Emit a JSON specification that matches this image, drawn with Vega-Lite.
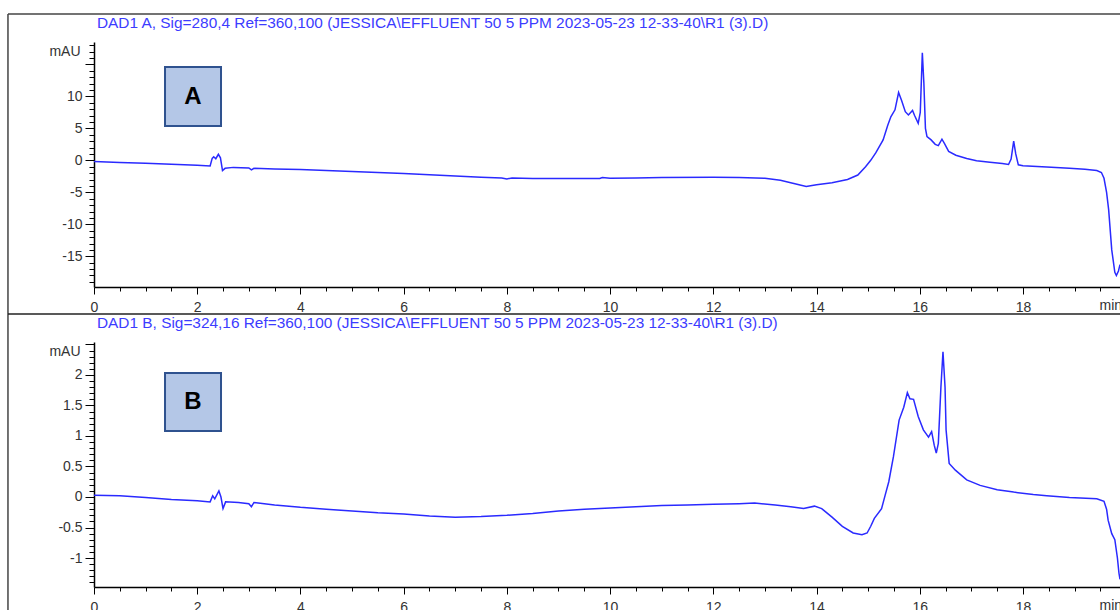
{
  "$schema": "https://vega.github.io/schema/vega-lite/v6.json",
  "autosize": {"type": "none"},
  "width": 1026,
  "height": 545,
  "padding": {"left": 94, "top": 42, "right": 0, "bottom": 23},
  "background": "white",
  "config": {
    "view": {"stroke": null},
    "axis": {
      "labelFont": "Liberation Sans",
      "labelFontSize": 14,
      "labelColor": "#333333",
      "titleFont": "Liberation Sans",
      "titleFontSize": 14,
      "titleFontWeight": "normal",
      "titleColor": "#333333",
      "domainColor": "#000000",
      "domainWidth": 1.5,
      "tickColor": "#000000",
      "tickWidth": 1,
      "grid": false,
      "labelOverlap": false
    }
  },
  "datasets": {
    "traceA": [
      {"t": 0, "v": -0.2}, {"t": 0.5, "v": -0.33}, {"t": 1.0, "v": -0.47}, {"t": 1.5, "v": -0.62},
      {"t": 2.0, "v": -0.76}, {"t": 2.25, "v": -0.88}, {"t": 2.29, "v": 0.3}, {"t": 2.32, "v": 0.55},
      {"t": 2.36, "v": 0.25}, {"t": 2.41, "v": 0.95}, {"t": 2.45, "v": 0.4}, {"t": 2.49, "v": -1.6},
      {"t": 2.54, "v": -1.25}, {"t": 2.7, "v": -1.1}, {"t": 3.0, "v": -1.2}, {"t": 3.05, "v": -1.5},
      {"t": 3.1, "v": -1.25}, {"t": 3.5, "v": -1.35}, {"t": 4.0, "v": -1.45}, {"t": 4.5, "v": -1.6},
      {"t": 5.0, "v": -1.75}, {"t": 5.5, "v": -1.9}, {"t": 6.0, "v": -2.05}, {"t": 6.5, "v": -2.25},
      {"t": 7.0, "v": -2.45}, {"t": 7.5, "v": -2.65}, {"t": 7.9, "v": -2.75}, {"t": 8.0, "v": -2.9},
      {"t": 8.1, "v": -2.75}, {"t": 8.5, "v": -2.85}, {"t": 9.0, "v": -2.85}, {"t": 9.5, "v": -2.85},
      {"t": 9.8, "v": -2.85}, {"t": 9.85, "v": -2.7}, {"t": 10.0, "v": -2.8}, {"t": 10.5, "v": -2.75},
      {"t": 11.0, "v": -2.7}, {"t": 12.0, "v": -2.65}, {"t": 12.5, "v": -2.7}, {"t": 13.0, "v": -2.8},
      {"t": 13.3, "v": -3.1}, {"t": 13.5, "v": -3.5}, {"t": 13.8, "v": -4.1}, {"t": 14.0, "v": -3.8},
      {"t": 14.3, "v": -3.5}, {"t": 14.6, "v": -3.0}, {"t": 14.8, "v": -2.3}, {"t": 14.95, "v": -1.0},
      {"t": 15.05, "v": 0.0}, {"t": 15.15, "v": 1.2}, {"t": 15.29, "v": 3.2}, {"t": 15.38, "v": 5.5},
      {"t": 15.44, "v": 6.8}, {"t": 15.52, "v": 7.9}, {"t": 15.59, "v": 10.6}, {"t": 15.65, "v": 9.3},
      {"t": 15.72, "v": 7.6}, {"t": 15.78, "v": 7.1}, {"t": 15.86, "v": 7.8}, {"t": 15.9, "v": 7.0},
      {"t": 15.97, "v": 5.8}, {"t": 16.01, "v": 7.5}, {"t": 16.05, "v": 16.8}, {"t": 16.08, "v": 12.0},
      {"t": 16.11, "v": 5.0}, {"t": 16.14, "v": 3.7}, {"t": 16.22, "v": 3.2}, {"t": 16.3, "v": 2.5},
      {"t": 16.36, "v": 2.3}, {"t": 16.43, "v": 3.3}, {"t": 16.48, "v": 2.6}, {"t": 16.56, "v": 1.4},
      {"t": 16.7, "v": 0.8}, {"t": 16.91, "v": 0.3}, {"t": 17.1, "v": -0.05}, {"t": 17.36, "v": -0.3},
      {"t": 17.6, "v": -0.5}, {"t": 17.72, "v": -0.65}, {"t": 17.77, "v": 0.2}, {"t": 17.82, "v": 3.0},
      {"t": 17.86, "v": 1.0}, {"t": 17.91, "v": -0.7}, {"t": 18.0, "v": -0.85}, {"t": 18.46, "v": -1.05},
      {"t": 18.9, "v": -1.25}, {"t": 19.2, "v": -1.4}, {"t": 19.43, "v": -1.6}, {"t": 19.52, "v": -1.9},
      {"t": 19.57, "v": -2.8}, {"t": 19.62, "v": -5.0}, {"t": 19.66, "v": -7.7}, {"t": 19.72, "v": -14.0},
      {"t": 19.78, "v": -17.5}, {"t": 19.81, "v": -18.0}, {"t": 19.85, "v": -17.3}, {"t": 19.88, "v": -16.3}
    ],
    "traceB": [
      {"t": 0, "v": 0.03}, {"t": 0.5, "v": 0.02}, {"t": 1.0, "v": -0.01}, {"t": 1.5, "v": -0.04},
      {"t": 2.0, "v": -0.06}, {"t": 2.25, "v": -0.08}, {"t": 2.3, "v": 0.02}, {"t": 2.34, "v": -0.03},
      {"t": 2.42, "v": 0.1}, {"t": 2.46, "v": 0.0}, {"t": 2.5, "v": -0.19}, {"t": 2.55, "v": -0.08},
      {"t": 2.8, "v": -0.09}, {"t": 3.0, "v": -0.11}, {"t": 3.05, "v": -0.16}, {"t": 3.1, "v": -0.09},
      {"t": 3.5, "v": -0.13}, {"t": 4.0, "v": -0.17}, {"t": 4.5, "v": -0.2}, {"t": 5.0, "v": -0.23},
      {"t": 5.5, "v": -0.26}, {"t": 6.0, "v": -0.28}, {"t": 6.5, "v": -0.31}, {"t": 7.0, "v": -0.33},
      {"t": 7.5, "v": -0.32}, {"t": 8.0, "v": -0.3}, {"t": 8.5, "v": -0.27}, {"t": 9.0, "v": -0.23},
      {"t": 9.5, "v": -0.2}, {"t": 10.0, "v": -0.18}, {"t": 10.5, "v": -0.16}, {"t": 11.0, "v": -0.14},
      {"t": 11.5, "v": -0.13}, {"t": 12.0, "v": -0.12}, {"t": 12.5, "v": -0.11}, {"t": 12.8, "v": -0.1},
      {"t": 13.2, "v": -0.13}, {"t": 13.5, "v": -0.16}, {"t": 13.75, "v": -0.19}, {"t": 13.96, "v": -0.15},
      {"t": 14.1, "v": -0.19}, {"t": 14.3, "v": -0.33}, {"t": 14.5, "v": -0.48}, {"t": 14.71, "v": -0.59},
      {"t": 14.88, "v": -0.62}, {"t": 14.98, "v": -0.59}, {"t": 15.05, "v": -0.48}, {"t": 15.12, "v": -0.35},
      {"t": 15.26, "v": -0.19}, {"t": 15.33, "v": 0.03}, {"t": 15.4, "v": 0.25}, {"t": 15.49, "v": 0.66},
      {"t": 15.6, "v": 1.26}, {"t": 15.69, "v": 1.47}, {"t": 15.76, "v": 1.71}, {"t": 15.81, "v": 1.61},
      {"t": 15.88, "v": 1.6}, {"t": 15.97, "v": 1.32}, {"t": 16.07, "v": 1.1}, {"t": 16.17, "v": 0.98},
      {"t": 16.23, "v": 1.07}, {"t": 16.28, "v": 0.85}, {"t": 16.32, "v": 0.72}, {"t": 16.36, "v": 0.88},
      {"t": 16.41, "v": 1.8}, {"t": 16.45, "v": 2.38}, {"t": 16.49, "v": 1.8}, {"t": 16.51, "v": 1.1},
      {"t": 16.57, "v": 0.55}, {"t": 16.69, "v": 0.44}, {"t": 16.91, "v": 0.28}, {"t": 17.17, "v": 0.19},
      {"t": 17.5, "v": 0.12}, {"t": 17.82, "v": 0.08}, {"t": 18.2, "v": 0.04}, {"t": 18.46, "v": 0.02},
      {"t": 18.9, "v": -0.01}, {"t": 19.43, "v": -0.03}, {"t": 19.57, "v": -0.07}, {"t": 19.62, "v": -0.2},
      {"t": 19.65, "v": -0.38}, {"t": 19.72, "v": -0.6}, {"t": 19.78, "v": -0.7}, {"t": 19.83, "v": -1.0},
      {"t": 19.86, "v": -1.25}, {"t": 19.88, "v": -1.35}
    ]
  },
  "resolve": {
    "scale": {"x": "independent", "y": "independent"},
    "axis": {"x": "independent", "y": "independent"}
  },
  "layer": [
    {
      "layer": [
        {
          "data": {"name": "traceA"},
          "mark": {"type": "line", "color": "#2a2aff", "strokeWidth": 1.5},
          "encoding": {
            "x": {"field": "t", "type": "quantitative",
              "scale": {"domain": [0, 19.88], "nice": false, "zero": false},
              "axis": {"orient": "bottom", "offset": -300, "tickCount": 1000,
                "values": [0, 0.5, 1, 1.5, 2, 2.5, 3, 3.5, 4, 4.5, 5, 5.5, 6, 6.5, 7, 7.5, 8, 8.5, 9, 9.5, 10, 10.5, 11, 11.5, 12, 12.5, 13, 13.5, 14, 14.5, 15, 15.5, 16, 16.5, 17, 17.5, 18, 18.5, 19, 19.5],
                "labelExpr": "datum.value % 2 === 0 ? '' + datum.value : ''",
                "tickSize": {"expr": "datum.value % 2 === 0 ? 7 : 4"},
                "labelPadding": 6, "labelFlush": false, "labelOverlap": false,
                "title": "min", "titleX": 1005, "titleY": 18, "titleAlign": "left", "titleBaseline": "middle"}},
            "y": {"field": "v", "type": "quantitative",
              "scale": {"domain": [-19.8, 18.5], "range": [245, 0], "nice": false, "zero": false},
              "axis": {"orient": "left", "tickCount": 1000,
                "values": [-19, -18, -17, -16, -15, -14, -13, -12, -11, -10, -9, -8, -7, -6, -5, -4, -3, -2, -1, 0, 1, 2, 3, 4, 5, 6, 7, 8, 9, 10, 11, 12, 13, 14, 15, 16, 17, 18],
                "labelExpr": "datum.value % 5 === 0 && datum.value < 15 ? '' + datum.value : ''",
                "tickSize": {"expr": "datum.value % 5 === 0 ? 9 : 5"},
                "labelPadding": 3, "labelOverlap": false,
                "title": "mAU", "titleAngle": 0, "titleX": -14, "titleY": 9, "titleAlign": "right", "titleBaseline": "middle"}}
          }
        },
        {
          "data": {"values": [{"title": "DAD1 A, Sig=280,4 Ref=360,100 (JESSICA\\EFFLUENT 50 5 PPM 2023-05-23 12-33-40\\R1 (3).D)"}]},
          "mark": {"type": "text", "font": "Liberation Sans", "fontSize": 15.4, "color": "#3c3cff", "align": "left", "baseline": "middle"},
          "encoding": {
            "x": {"datum": 0.058, "scale": {"domain": [0, 19.88], "nice": false, "zero": false}},
            "y": {"datum": 21.47, "scale": {"domain": [-19.8, 18.5], "range": [245, 0], "nice": false, "zero": false}},
            "text": {"field": "title"}
          }
        },
        {
          "data": {"values": [{"part": "left frame"}]},
          "mark": {"type": "rule", "color": "#444444", "strokeWidth": 1.5},
          "encoding": {
            "x": {"datum": -1.667, "scale": {"domain": [0, 19.88], "nice": false, "zero": false}},
            "y": {"datum": 22.88, "scale": {"domain": [-19.8, 18.5], "range": [245, 0], "nice": false, "zero": false}},
            "y2": {"datum": -70.3}
          }
        },
        {
          "data": {"values": [{"part": "top frame"}]},
          "mark": {"type": "rule", "color": "#444444", "strokeWidth": 1.5},
          "encoding": {
            "x": {"datum": -1.667, "scale": {"domain": [0, 19.88], "nice": false, "zero": false}},
            "x2": {"datum": 19.88},
            "y": {"datum": 22.88, "scale": {"domain": [-19.8, 18.5], "range": [245, 0], "nice": false, "zero": false}}
          }
        },
        {
          "data": {"values": [{"part": "divider"}]},
          "mark": {"type": "rule", "color": "#222222", "strokeWidth": 1.5},
          "encoding": {
            "x": {"datum": -1.667, "scale": {"domain": [0, 19.88], "nice": false, "zero": false}},
            "x2": {"datum": 19.88},
            "y": {"datum": -24.02, "scale": {"domain": [-19.8, 18.5], "range": [245, 0], "nice": false, "zero": false}}
          }
        },
        {
          "data": {"values": [{"label": "A"}]},
          "mark": {"type": "rect", "fill": "#b4c7e7", "stroke": "#2f528f", "strokeWidth": 2},
          "encoding": {
            "x": {"datum": 1.376, "scale": {"domain": [0, 19.88], "nice": false, "zero": false}},
            "x2": {"datum": 2.461},
            "y": {"datum": 14.59, "scale": {"domain": [-19.8, 18.5], "range": [245, 0], "nice": false, "zero": false}},
            "y2": {"datum": 5.37}
          }
        },
        {
          "data": {"values": [{"label": "A"}]},
          "mark": {"type": "text", "font": "Liberation Sans", "fontWeight": "bold", "fontSize": 24, "color": "#000000", "align": "center", "baseline": "middle"},
          "encoding": {
            "x": {"datum": 1.919, "scale": {"domain": [0, 19.88], "nice": false, "zero": false}},
            "y": {"datum": 9.9, "scale": {"domain": [-19.8, 18.5], "range": [245, 0], "nice": false, "zero": false}},
            "text": {"field": "label"}
          }
        }
      ]
    },
    {
      "layer": [
        {
          "data": {"name": "traceB"},
          "mark": {"type": "line", "color": "#2a2aff", "strokeWidth": 1.5},
          "encoding": {
            "x": {"field": "t", "type": "quantitative",
              "scale": {"domain": [0, 19.88], "nice": false, "zero": false},
              "axis": {"orient": "bottom", "offset": 0, "tickCount": 1000,
                "values": [0, 0.5, 1, 1.5, 2, 2.5, 3, 3.5, 4, 4.5, 5, 5.5, 6, 6.5, 7, 7.5, 8, 8.5, 9, 9.5, 10, 10.5, 11, 11.5, 12, 12.5, 13, 13.5, 14, 14.5, 15, 15.5, 16, 16.5, 17, 17.5, 18, 18.5, 19, 19.5],
                "labelExpr": "datum.value % 2 === 0 ? '' + datum.value : ''",
                "tickSize": {"expr": "datum.value % 2 === 0 ? 7 : 4"},
                "labelPadding": 6, "labelFlush": false, "labelOverlap": false,
                "title": "min", "titleX": 1005, "titleY": 18, "titleAlign": "left", "titleBaseline": "middle"}},
            "y": {"field": "v", "type": "quantitative",
              "scale": {"domain": [-1.475, 2.54], "range": [545, 300], "nice": false, "zero": false},
              "axis": {"orient": "left", "tickCount": 1000,
                "values": [-1.4, -1.3, -1.2, -1.1, -1, -0.9, -0.8, -0.7, -0.6, -0.5, -0.4, -0.3, -0.2, -0.1, 0, 0.1, 0.2, 0.3, 0.4, 0.5, 0.6, 0.7, 0.8, 0.9, 1, 1.1, 1.2, 1.3, 1.4, 1.5, 1.6, 1.7, 1.8, 1.9, 2, 2.1, 2.2, 2.3, 2.4, 2.5],
                "labelExpr": "abs(datum.value * 2 - round(datum.value * 2)) < 0.001 && datum.value < 2.4 ? '' + datum.value : ''",
                "tickSize": {"expr": "abs(datum.value * 2 - round(datum.value * 2)) < 0.001 ? 9 : 5"},
                "labelPadding": 3, "labelOverlap": false,
                "title": "mAU", "titleAngle": 0, "titleX": -14, "titleY": 309, "titleAlign": "right", "titleBaseline": "middle"}}
          }
        },
        {
          "data": {"values": [{"title": "DAD1 B, Sig=324,16 Ref=360,100 (JESSICA\\EFFLUENT 50 5 PPM 2023-05-23 12-33-40\\R1 (3).D)"}]},
          "mark": {"type": "text", "font": "Liberation Sans", "fontSize": 15.4, "color": "#3c3cff", "align": "left", "baseline": "middle"},
          "encoding": {
            "x": {"datum": 0.058, "scale": {"domain": [0, 19.88], "nice": false, "zero": false}},
            "y": {"datum": 2.851, "scale": {"domain": [-1.475, 2.54], "range": [545, 300], "nice": false, "zero": false}},
            "text": {"field": "title"}
          }
        },
        {
          "data": {"values": [{"label": "B"}]},
          "mark": {"type": "rect", "fill": "#b4c7e7", "stroke": "#2f528f", "strokeWidth": 2},
          "encoding": {
            "x": {"datum": 1.376, "scale": {"domain": [0, 19.88], "nice": false, "zero": false}},
            "x2": {"datum": 2.461},
            "y": {"datum": 2.032, "scale": {"domain": [-1.475, 2.54], "range": [545, 300], "nice": false, "zero": false}},
            "y2": {"datum": 1.081}
          }
        },
        {
          "data": {"values": [{"label": "B"}]},
          "mark": {"type": "text", "font": "Liberation Sans", "fontWeight": "bold", "fontSize": 24, "color": "#000000", "align": "center", "baseline": "middle"},
          "encoding": {
            "x": {"datum": 1.919, "scale": {"domain": [0, 19.88], "nice": false, "zero": false}},
            "y": {"datum": 1.557, "scale": {"domain": [-1.475, 2.54], "range": [545, 300], "nice": false, "zero": false}},
            "text": {"field": "label"}
          }
        }
      ]
    }
  ]
}
